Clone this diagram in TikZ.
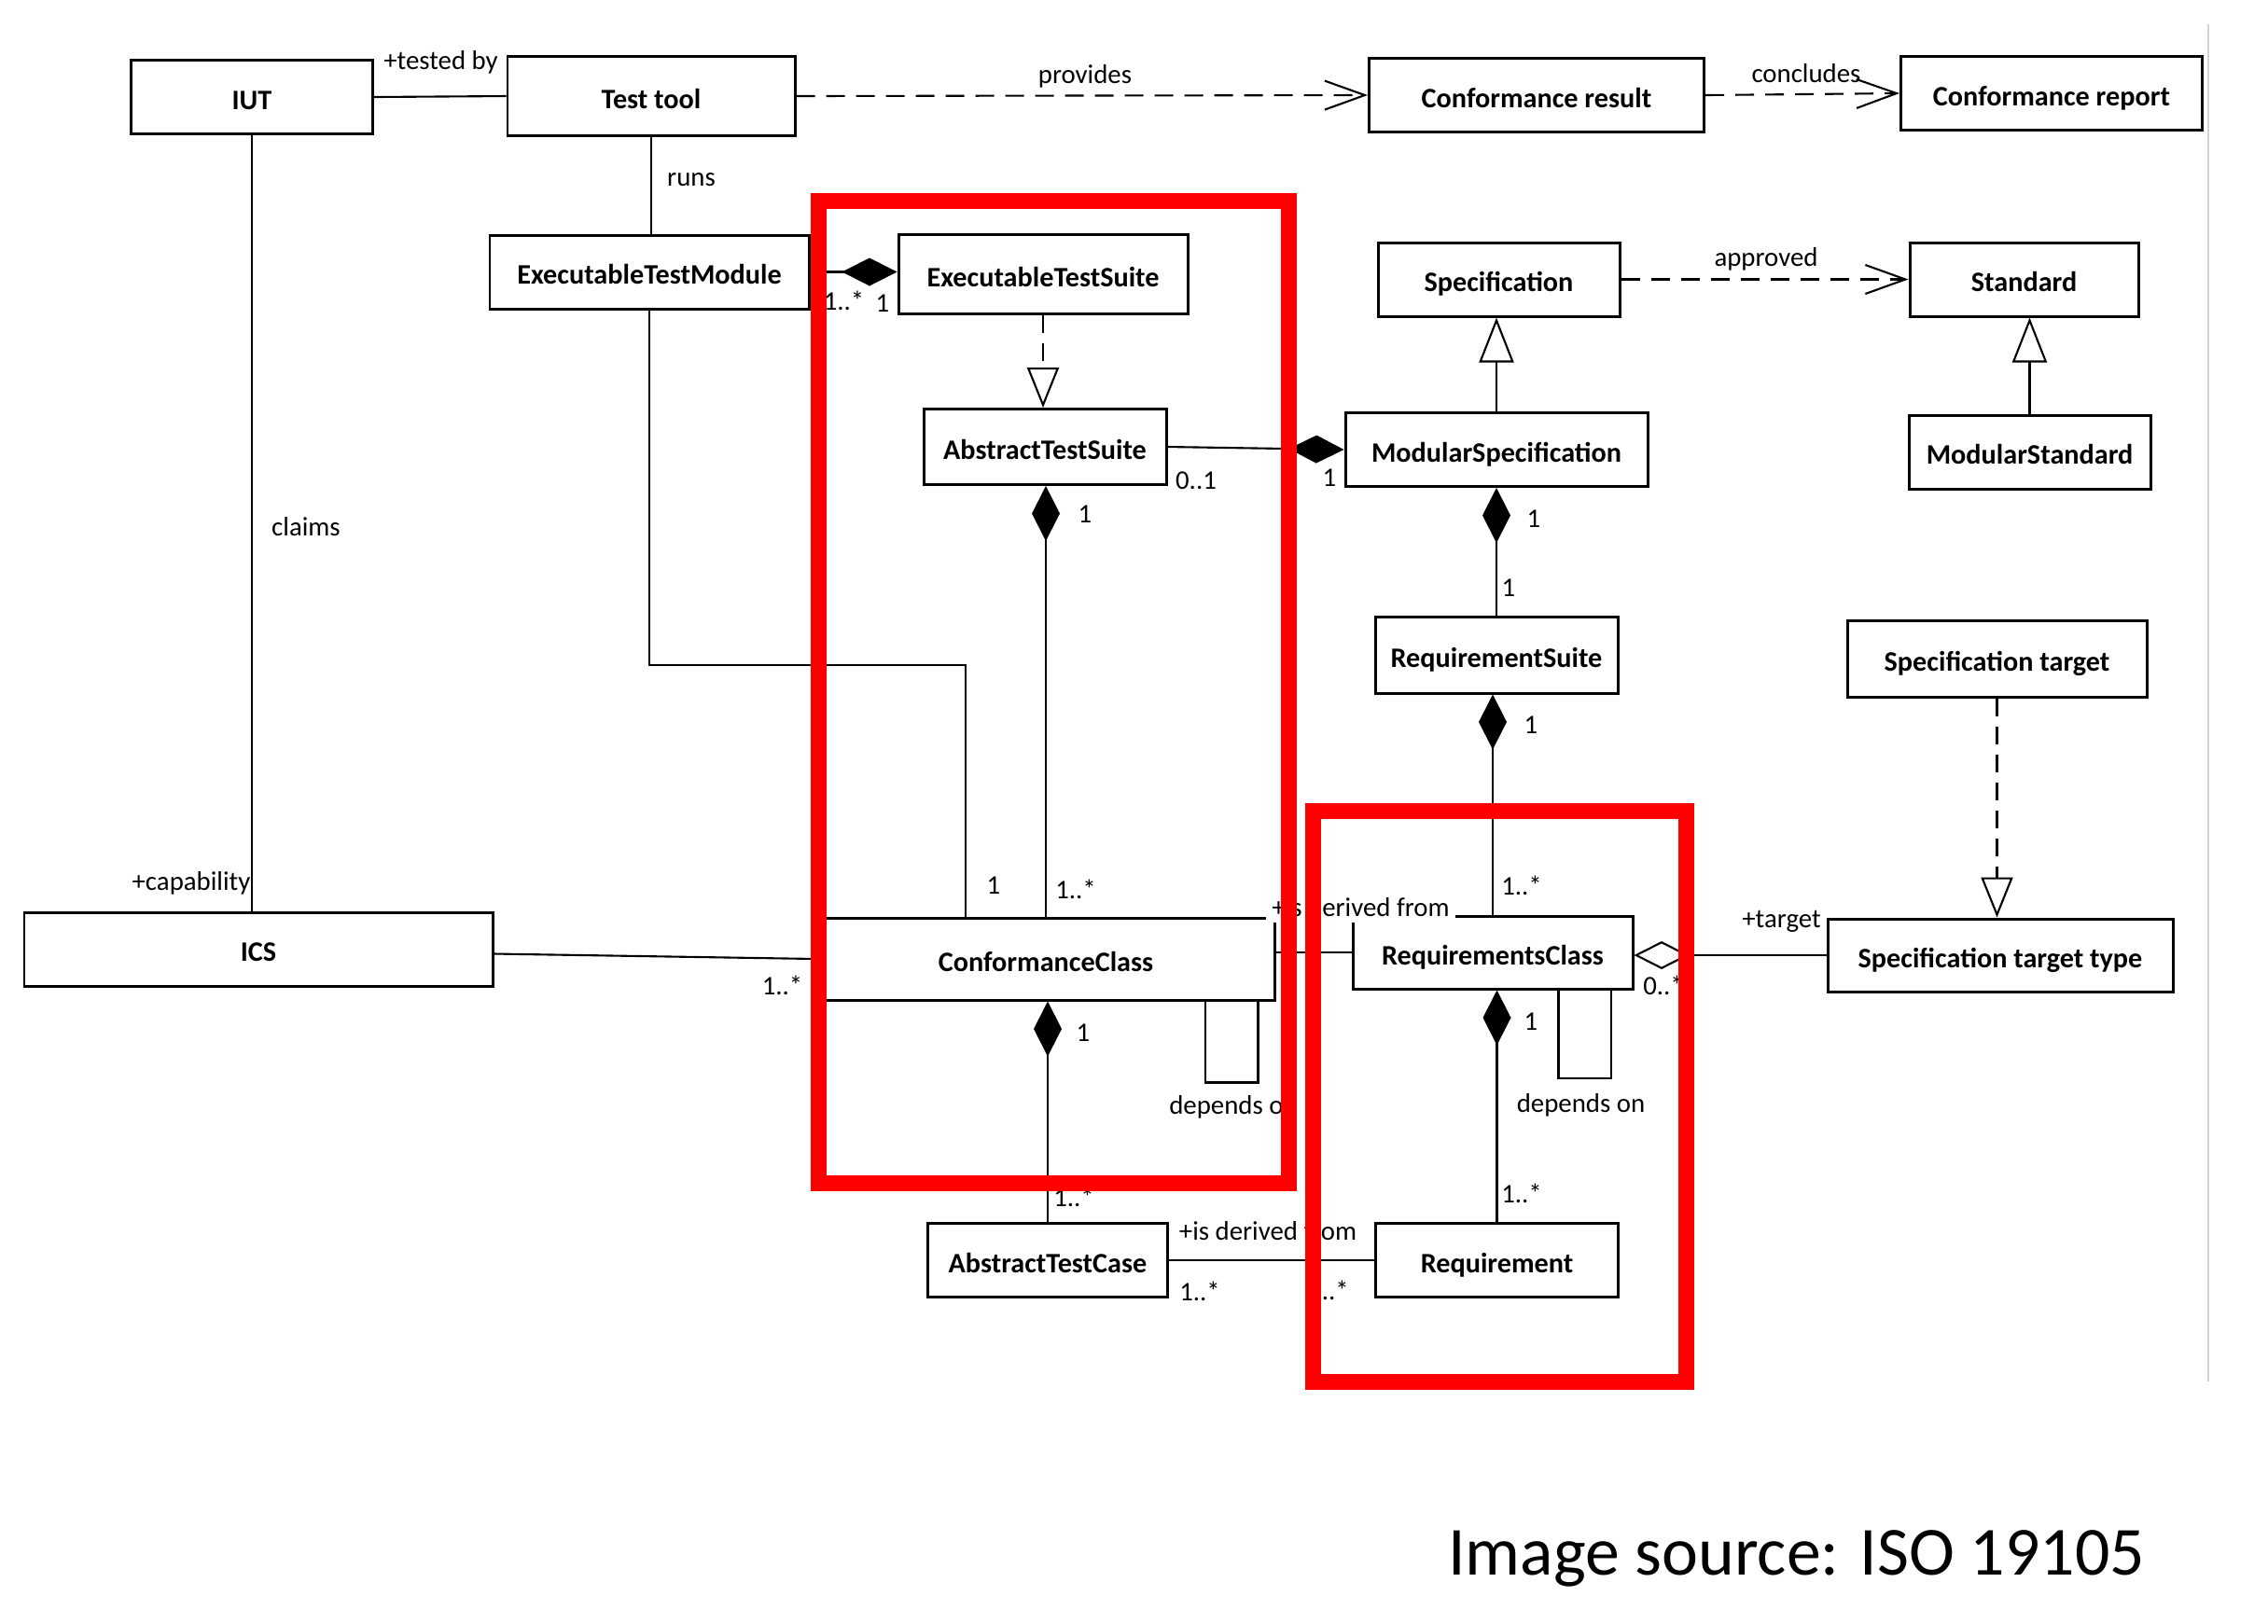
\documentclass[tikz,border=0pt]{standalone}
\usepackage{fontspec}
\setmainfont{Carlito}
\usetikzlibrary{arrows.meta}
\tikzstyle{cls}=[draw=black, line width=0.85pt, inner sep=0pt, minimum height=7.9mm, text height=2.6mm, text depth=0pt, font=\bfseries\fontsize{8.6}{10}\selectfont]
\tikzstyle{lbl}=[inner sep=0.6mm, font=\fontsize{8.2}{10}\selectfont]
\tikzstyle{conn}=[line width=0.6pt]
\tikzstyle{comp}=[conn, -{Diamond[length=5.9mm, width=3mm]}]
\tikzstyle{aggr}=[conn, -{Diamond[open, fill=white, length=5.9mm, width=3mm]}]
\tikzstyle{gen}=[conn, -{Triangle[open, fill=white, length=4.8mm, width=3.7mm]}]
\tikzstyle{real}=[conn, dash pattern=on 1.9mm off 1.1mm, -{Triangle[open, fill=white, length=4.3mm, width=3.4mm]}]
\tikzstyle{dep}=[conn, dash pattern=on 2mm off 1.2mm, -{Straight Barb[length=4.3mm, width=3.1mm]}]
\tikzstyle{hilite}=[draw=red, line width=1.7mm]
\begin{document}
\begin{tikzpicture}[x=1mm, y=-1mm]
    \useasboundingbox (0,0) rectangle (243.1,174.0);

    % classes
    \node[cls, minimum width=25.9mm] (iut) at (27.0,10.4) {IUT};
    \node[cls, minimum width=30.8mm, minimum height=8.5mm] (tool) at (69.8,10.3) {Test tool};
    \node[cls, minimum width=35.9mm] (result) at (164.7,10.2) {Conformance result};
    \node[cls, minimum width=32.3mm] (report) at (219.9,10.0) {Conformance report};
    \node[cls, minimum width=34.2mm] (etm) at (69.6,29.15) {ExecutableTestModule};
    \node[cls, minimum width=31.0mm, minimum height=8.5mm] (ets) at (111.8,29.4) {ExecutableTestSuite};
    \node[cls, minimum width=25.9mm] (spec) at (160.65,29.95) {Specification};
    \node[cls, minimum width=24.5mm] (std) at (216.95,29.95) {Standard};
    \node[cls, minimum width=26.0mm, minimum height=8.1mm] (ats) at (112.0,47.9) {AbstractTestSuite};
    \node[cls, minimum width=32.4mm] (modspec) at (160.4,48.2) {ModularSpecification};
    \node[cls, minimum width=25.9mm] (modstd) at (217.55,48.45) {ModularStandard};
    \node[cls, minimum width=26.0mm, minimum height=8.2mm] (reqsuite) at (160.4,70.2) {RequirementSuite};
    \node[cls, minimum width=32.1mm, minimum height=8.2mm] (target) at (214.05,70.65) {Specification target};
    \node[cls, minimum width=50.2mm] (ics) at (27.7,101.75) {ICS};
    \node[cls, minimum width=49.0mm, minimum height=8.8mm] (cc) at (112.1,102.8) {ConformanceClass};
    \node[cls, minimum width=30.0mm, minimum height=7.8mm] (rc) at (160.0,102.1) {RequirementsClass};
    \node[cls, minimum width=37.0mm, minimum height=7.8mm] (ttype) at (214.4,102.4) {Specification target type};
    \node[cls, minimum width=25.7mm] (atc) at (112.3,135.1) {AbstractTestCase};
    \node[cls, minimum width=26.0mm] (req) at (160.45,135.1) {Requirement};

    % associations
    \draw[conn] (iut.east) -- (tool.west);
    \draw[dep] (tool.east) -- (result.west);
    \draw[dep] (result.east) -- (report.west);
    \draw[conn] (tool.south) -- (tool.south |- etm.north);
    \draw[comp] (etm.east) -- (etm.east -| ets.west);
    \draw[real] (ets.south) -- (ets.south |- ats.north);
    \draw[comp] (ats.east) -- (modspec.west);
    \draw[gen] (modspec.north) -- (modspec.north |- spec.south);
    \draw[dep] (spec.east) -- (std.west);
    \draw[gen] (modstd.north) -- (modstd.north |- std.south);
    \draw[comp] (reqsuite.north) -- (reqsuite.north |- modspec.south);
    \draw[comp] (rc.north) -- (rc.north |- reqsuite.south);
    \draw[comp] (cc.north) -- (cc.north |- ats.south);
    \draw[conn] (etm.south) |- (103.5,71.3) -- (103.5,0 |- cc.north);
    \draw[conn] (iut.south) -- (iut.south |- ics.north);
    \draw[conn] ([yshift=-0.5mm]ics.east) -- (cc.west);
    \draw[conn] (rc.west) -- (rc.west -| cc.east);
    \draw[conn] (129.2,0 |- cc.south) -- ++(0,8.7) -| (134.85,0 |- cc.south);
    \draw[conn] (167.05,0 |- rc.south) -- ++(0,9.45) -| (172.67,0 |- rc.south);
    \draw[aggr] (ttype.west) -- (ttype.west -| rc.east);
    \draw[real] (target.south) -- (target.south |- ttype.north);
    \draw[comp] (atc.north) -- (atc.north |- cc.south);
    \draw[comp] (req.north) -- (req.north |- rc.south);
    \draw[conn] (atc.east) -- (req.west);

    % role names
    \node[lbl] (ltested) at (47.25,6.7) {+tested by};
    \node[lbl] (lprovides) at (116.3,8.2) {provides};
    \node[lbl] (lconcludes) at (193.6,7.85) {concludes};
    \node[lbl] (lruns) at (74.1,19.3) {runs};
    \node[lbl] (lapproved) at (189.3,27.75) {approved};
    \node[lbl] (lclaims) at (32.8,56.5) {claims};
    \node[lbl] (lcapability) at (20.5,94.7) {+capability};
    \node[lbl, fill=white] (lderivedcc) at (145.85,97.3) {+is derived from};
    \node[lbl, fill=white] (ltarget) at (190.95,98.8) {+target};
    \node[lbl] (ldependscc) at (132.2,118.7) {depends on};
    \node[lbl] (ldependsrc) at (169.45,118.5) {depends on};
    \node[lbl] (lderivedatc) at (135.9,132.0) {+is derived from};

    % multiplicities
    \foreach \px/\py/\txt [count=\i] in {90.45/32.2/{1..*}, 94.6/32.5/1, 128.2/51.5/{0..1}, 142.5/51.2/1,
        116.3/55.1/1, 164.4/55.6/1, 161.7/63.0/1, 164.1/77.7/1, 106.5/94.9/1, 115.3/95.3/{1..*},
        163.1/94.9/{1..*}, 83.85/105.6/{1..*}, 178.3/105.6/{0..*}, 116.1/110.7/1, 164.1/109.5/1,
        115.1/128.3/{1..*}, 163.1/127.9/{1..*}, 128.6/138.4/{1..*}, 142.4/138.3/{1..*}}
      \node[lbl] (m\i) at (\px,\py) {\txt};

    % highlight frames
    \draw[hilite] (87.75,21.55) rectangle (138.15,126.85);
    \draw[hilite] (140.75,86.9) rectangle (180.7,148.1);
    \draw[gray!35, line width=0.5pt] (236.7,2.6) -- (236.7,148.1);

    \node[anchor=base west, inner sep=0pt, font=\fontsize{21}{25}\selectfont] (source) at (155.15,168.8) {Image source: ISO 19105};
\end{tikzpicture}
\end{document}
